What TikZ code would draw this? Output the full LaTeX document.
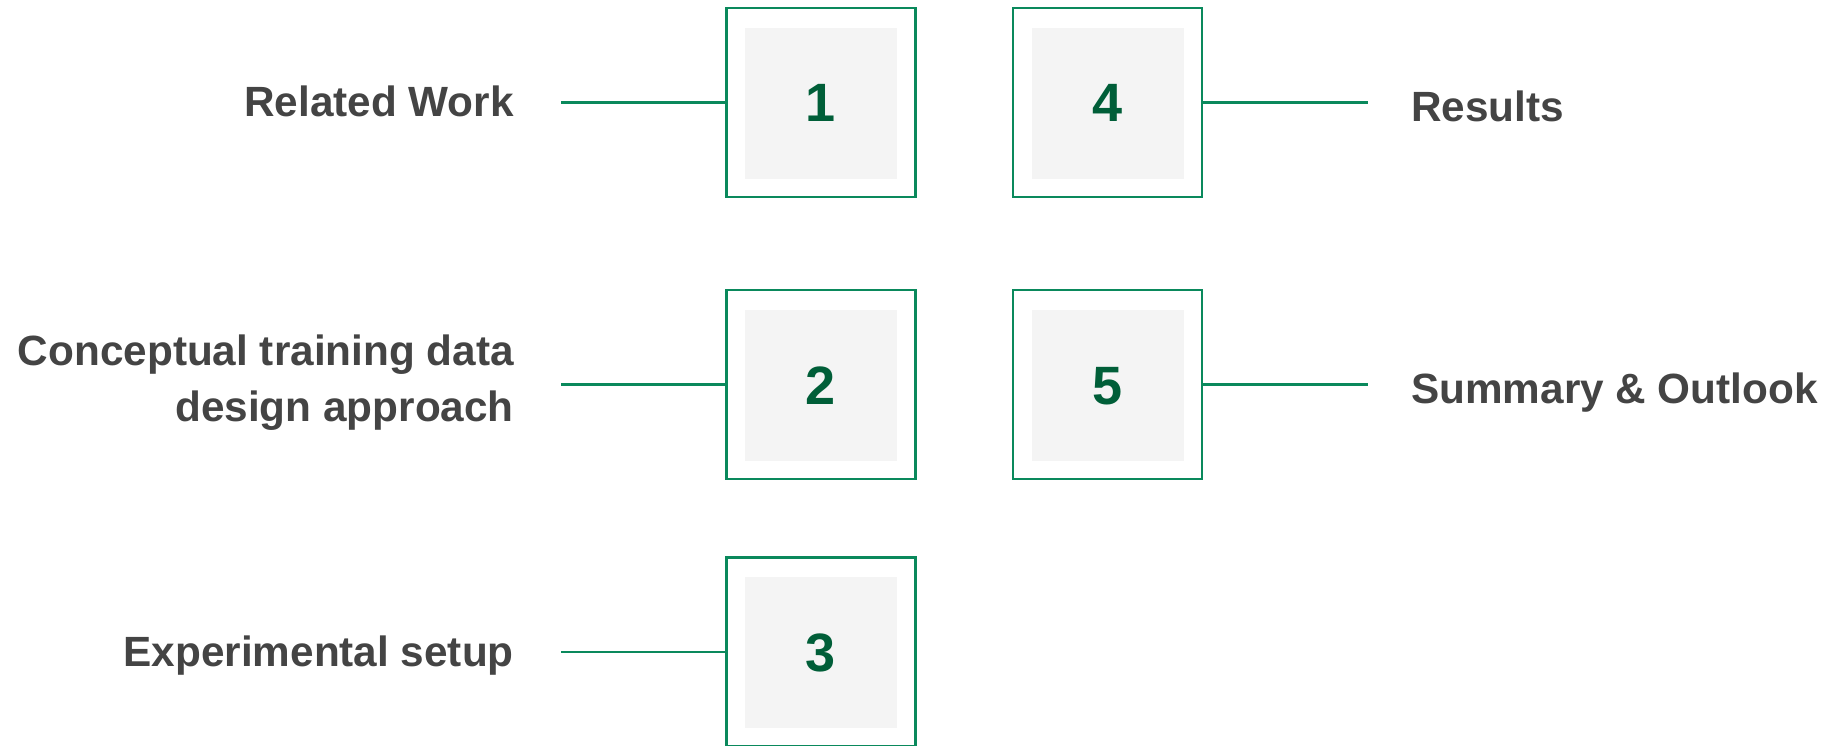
\documentclass[tikz,border=0pt]{standalone}
\usepackage{fontspec}
\setmainfont{Liberation Sans}
\definecolor{bordergreen}{RGB}{10,137,92}
\definecolor{digitgreen}{RGB}{0,94,56}
\definecolor{labelgray}{RGB}{68,68,68}
\definecolor{innergray}{RGB}{244,244,244}
\begin{document}
\begin{tikzpicture}[x=1pt,y=-1pt,
  outerbox/.style={draw=bordergreen,line width=2.8pt,fill=white,minimum width=189pt,minimum height=189pt,inner sep=0pt},
  innerbox/.style={fill=innergray,minimum width=152pt,minimum height=151pt,inner sep=0pt},
  digit/.style={anchor=base,inner sep=0pt,text=digitgreen,font=\fontsize{54}{60}\selectfont\bfseries},
  leftlabel/.style={anchor=base east,inner sep=0pt,text=labelgray,align=right,font=\fontsize{42.3}{56}\selectfont\bfseries},
  rightlabel/.style={anchor=base west,inner sep=0pt,text=labelgray,align=left,font=\fontsize{42.3}{56}\selectfont\bfseries},
  conn/.style={draw=bordergreen,line width=2.8pt}]
\useasboundingbox (0,0) rectangle (1832,746);
% boxes
\node[outerbox] (b1) at (821,102.5) {};
\node[outerbox] (b2) at (821,384.5) {};
\node[outerbox] (b3) at (821,652) {};
\node[outerbox] (b4) at (1107.5,102.5) {};
\node[outerbox] (b5) at (1107.5,384.5) {};
\node[innerbox] (i1) at (821,103.5) {};
\node[innerbox] (i2) at (821,385.5) {};
\node[innerbox] (i3) at (821,652) {};
\node[innerbox] (i4) at (1108,103.5) {};
\node[innerbox] (i5) at (1108,385.5) {};
\node[digit] (d1) at (821,122) {1};
\node[digit] (d2) at (821,404) {2};
\node[digit] (d3) at (821,671.5) {3};
\node[digit] (d4) at (1108,122) {4};
\node[digit] (d5) at (1108,404) {5};
% labels
\node[leftlabel] (t1) at (514,117) {Related Work};
\node[leftlabel] (t2) at (514,421) {Conceptual training data\\design approach};
\node[leftlabel] (t3) at (514,666.5) {Experimental setup};
\node[rightlabel] (t4) at (1411,122) {Results};
\node[rightlabel] (t5) at (1411,403) {Summary \& Outlook};
% connector ends
\coordinate (c1) at (561,102.5);
\coordinate (c2) at (561,384.5);
\coordinate (c3) at (561,652);
\coordinate (c4) at (1368,102.5);
\coordinate (c5) at (1368,384.5);
\draw[conn] (c1) -- (b1.west);
\draw[conn] (c2) -- (b2.west);
\draw[conn] (c3) -- (b3.west);
\draw[conn] (b4.east) -- (c4);
\draw[conn] (b5.east) -- (c5);
\end{tikzpicture}
\end{document}
